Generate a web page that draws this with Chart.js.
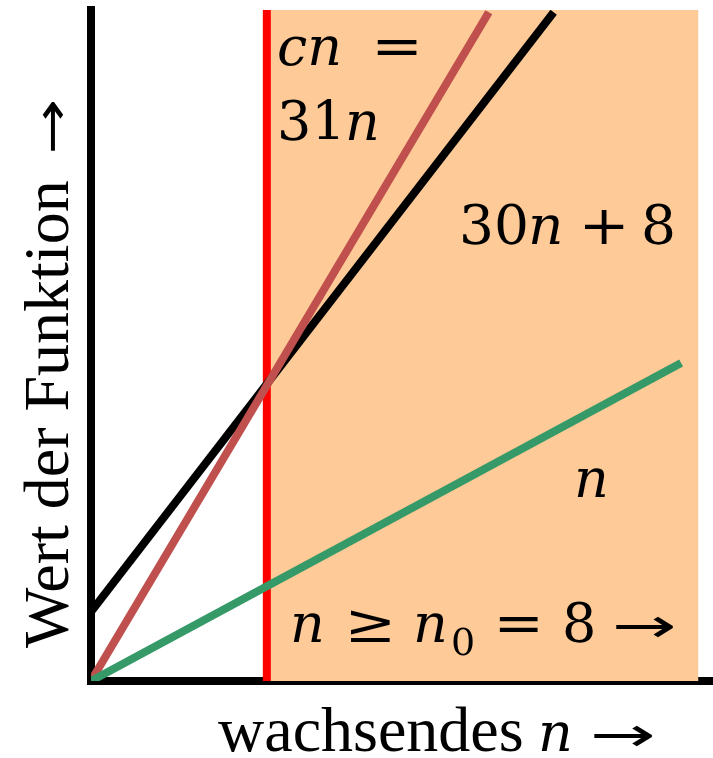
<!DOCTYPE html>
<html>
<head>
<meta charset="utf-8">
<script src="https://cdn.jsdelivr.net/npm/chart.js@4"></script>
<style>
  html, body { margin: 0; padding: 0; background: #fff; }
  #wrap { width: 713px; height: 758px; position: relative; }
</style>
</head>
<body>
<div id="wrap"><canvas id="c" width="713" height="758"></canvas></div>
<script>
// O-notation sketch: 30n+8 is bounded by cn = 31n for n >= n0 = 8
const n0 = 8;
const nMax = 28.3;        // right end of the n axis
const yMax = 30.5;        // top of the value axis
const regionEnd = 27.64;  // right edge of the shaded n >= n0 region

// schematic end points of each line (n, value)
const boundN = [0, 18.1];      // cn = 31n
const boundY = [0, 30.4];
const funcN = [0, 21.05];      // 30n + 8
const funcY = [3.15, 30.4];
const identN = [0, 26.85];     // n
const identY = [0, 14.45];

const pts = (xs, ys) => xs.map((x, i) => ({ x, y: ys[i] }));

const TEXT = '"Liberation Serif", "Times New Roman", serif';
const MATH = '"DejaVu Serif", serif';
const ARROW = '"DejaVu Sans", sans-serif';

// one glyph run; when w is given the ink is stretched to that width
function put(ctx, t, x, y, font, w) {
  ctx.font = font;
  if (!w) { ctx.fillText(t, x, y); return; }
  const m = ctx.measureText(t);
  const ink = m.actualBoundingBoxRight + m.actualBoundingBoxLeft;
  ctx.save();
  ctx.translate(x, y);
  ctx.scale(w / ink, 1);
  ctx.fillText(t, m.actualBoundingBoxLeft, 0);
  ctx.restore();
}

const labels = {
  id: 'labels',
  afterDraw(chart) {
    const ctx = chart.ctx;
    const m = 'px ' + MATH;
    ctx.save();
    ctx.fillStyle = '#000';
    ctx.textBaseline = 'alphabetic';
    ctx.textAlign = 'left';

    // cn = 31n
    put(ctx, 'cn', 277, 65, 'italic 54' + m);
    put(ctx, '=', 377, 65, '54' + m, 40);
    put(ctx, '31', 277, 140, '54' + m);
    put(ctx, 'n', 345, 140, 'italic 54' + m);

    // 30n + 8
    put(ctx, '30', 459, 244, '55' + m);
    put(ctx, 'n', 528, 244, 'italic 55' + m);
    put(ctx, '+', 584, 244, '55' + m, 40);
    put(ctx, '8', 641, 244, '55' + m);

    // n
    put(ctx, 'n', 574, 497, 'italic 54' + m);

    // n >= n0 = 8 ->
    put(ctx, 'n', 290, 642, 'italic 54' + m);
    put(ctx, '\u2265', 350, 642, '54' + m, 40);
    put(ctx, 'n', 413, 642, 'italic 54' + m);
    put(ctx, '0', 451, 655, '38' + m);
    put(ctx, '=', 499, 642, '54' + m, 39);
    put(ctx, '8', 562, 642, '54' + m);
    put(ctx, '\u2192', 615, 642, '48px ' + ARROW, 58);

    // axis titles
    put(ctx, 'wachsendes', 218, 751, '64px ' + TEXT);
    put(ctx, 'n', 538, 751, 'italic 54' + m);
    put(ctx, '\u2192', 593, 751, '48px ' + ARROW, 59);

    ctx.translate(68, 648);
    ctx.rotate(-Math.PI / 2);
    put(ctx, 'Wert der Funktion', 0, 0, '64px ' + TEXT);
    put(ctx, '\u2192', 496, 0, '48px ' + ARROW, 50);
    ctx.restore();
  }
};

new Chart(document.getElementById('c'), {
  type: 'line',
  data: {
    datasets: [
      { // shaded region n >= n0
        data: [{ x: n0, y: yMax }, { x: regionEnd, y: yMax }],
        borderWidth: 0, pointRadius: 0, fill: 'origin',
        backgroundColor: '#FECB98', order: 5
      },
      { // n0 marker
        data: [{ x: n0, y: 0 }, { x: n0, y: yMax }],
        borderColor: '#FF0000', borderWidth: 8, pointRadius: 0, order: 4
      },
      { // 30n + 8
        data: pts(funcN, funcY),
        borderColor: '#000000', borderWidth: 8, pointRadius: 0, order: 3
      },
      { // cn
        data: pts(boundN, boundY),
        borderColor: '#C0504D', borderWidth: 8, pointRadius: 0, order: 2
      },
      { // n
        data: pts(identN, identY),
        borderColor: '#359A68', borderWidth: 8, pointRadius: 0, order: 1
      }
    ]
  },
  options: {
    animation: false,
    responsive: false,
    layout: { padding: { left: 91, top: 10, right: 0, bottom: 77 } },
    plugins: { legend: { display: false }, tooltip: { enabled: false } },
    elements: { line: { tension: 0, borderCapStyle: 'butt' } },
    scales: {
      x: {
        type: 'linear', min: 0, max: nMax,
        grid: { display: false }, ticks: { display: false },
        border: { display: true, color: '#000', width: 8 },
        afterFit: s => { s.height = 0; }
      },
      y: {
        type: 'linear', min: 0, max: yMax,
        grid: { display: false }, ticks: { display: false },
        border: { display: true, color: '#000', width: 8 },
        afterFit: s => { s.width = 0; }
      }
    }
  },
  plugins: [labels]
});
</script>
</body>
</html>
